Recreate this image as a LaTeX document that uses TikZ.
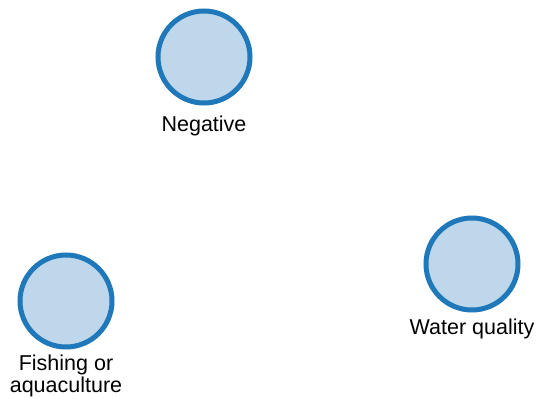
\documentclass[tikz,border=0pt]{standalone}
\usepackage{fontspec}
\setmainfont{Liberation Sans}
\usetikzlibrary{positioning}
\definecolor{ringblue}{RGB}{30,120,185}
\definecolor{fillblue}{RGB}{190,215,235}

\tikzset{
	factor/.style={circle, draw=ringblue, fill=fillblue, line width=5pt, minimum size=92pt, inner sep=0pt},
	caption/.style={align=center, inner sep=0pt, font=\fontsize{21.5}{22}\selectfont}
}

\begin{document}
\begin{tikzpicture}[x=1pt, y=-1pt]

			\useasboundingbox (0, 0) rectangle (539, 399);

			\node[factor] (negative) at (204, 57) {};
			\node[factor] (water) at (472, 264) {};
			\node[factor] (fishing) at (66, 301) {};

			\node[caption, below=10pt of negative] (negativeText) {Negative};
			\node[caption, below=6pt of water] (waterText) {Water quality};
			\node[caption, below=5pt of fishing] (fishingText) {Fishing or\\aquaculture};

		\end{tikzpicture}
\end{document}
